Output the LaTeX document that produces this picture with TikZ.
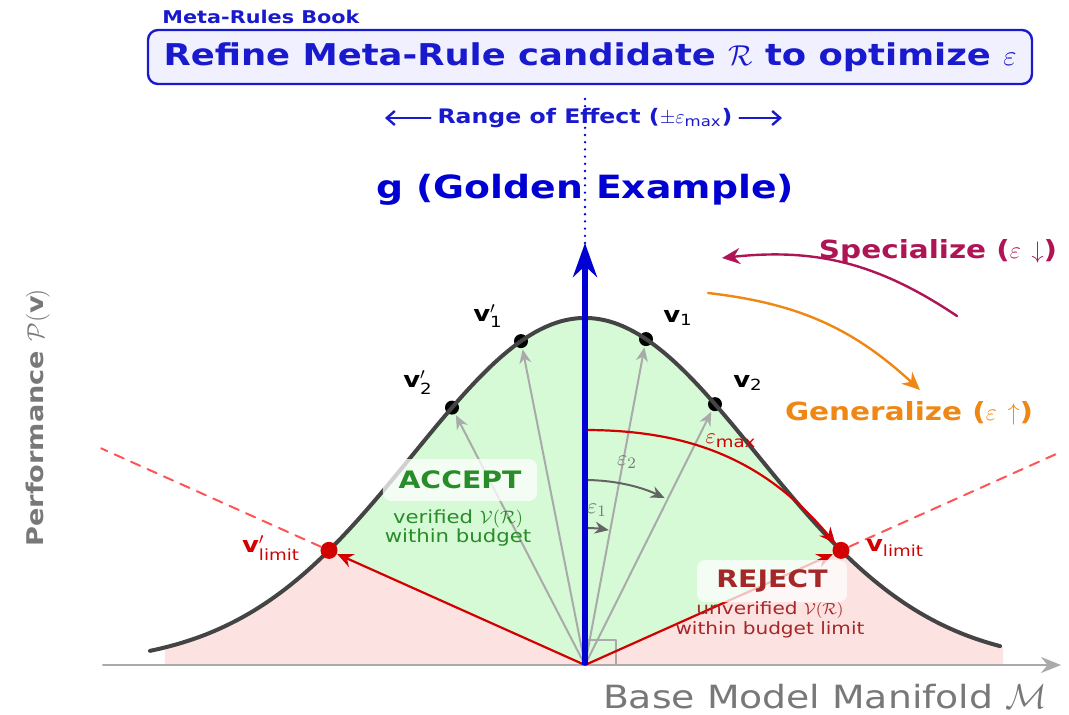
\documentclass[tikz,border=0pt]{standalone}
\usepackage{amsmath,amssymb}
\usepackage{fontspec}
\setmainfont{DejaVu Sans}[FakeStretch=1.18]
\usetikzlibrary{arrows.meta,calc,positioning}
\definecolor{ruleblue}{RGB}{25,25,205}
\definecolor{axisblue}{RGB}{0,0,210}
\definecolor{boxfill}{RGB}{240,240,255}
\definecolor{curvegray}{RGB}{68,68,68}
\definecolor{raygray}{RGB}{170,170,170}
\definecolor{arcgray}{RGB}{100,100,100}
\definecolor{labgray}{RGB}{120,120,120}
\definecolor{accfill}{RGB}{214,250,214}
\definecolor{rejfill}{RGB}{253,226,226}
\definecolor{limred}{RGB}{210,0,0}
\definecolor{dashred}{RGB}{255,85,85}
\definecolor{accgreen}{RGB}{40,140,40}
\definecolor{rejred}{RGB}{165,40,40}
\definecolor{specred}{RGB}{175,20,85}
\definecolor{genorange}{RGB}{238,135,20}
\newcommand{\bellY}[1]{347*exp(-0.5*((#1)/172)*((#1)/172))}
\tikzset{
  bell/.style={draw=curvegray, line width=2pt},
  dotv/.style={circle, fill, inner sep=0pt, minimum size=7pt},
  limdot/.style={circle, fill=limred, inner sep=0pt, minimum size=8.5pt},
  ray/.style={draw=raygray, line width=1pt, -{Stealth[length=7pt,width=6pt]}, shorten >=0.5pt},
  limline/.style={draw=limred, line width=1.1pt, -{Stealth[length=8pt,width=7pt]}},
  limdash/.style={draw=dashred, line width=1pt, dash pattern=on 5pt off 4pt},
  epsarc/.style={draw=arcgray, line width=1pt, -{Stealth[length=7pt,width=6pt]}},
  rangearr/.style={draw=ruleblue, line width=1.2pt, -{Straight Barb[length=4pt,width=7pt]}},
  vlab/.style={font=\fontsize{11pt}{13pt}\selectfont, text=black},
  tag/.style={rounded corners=4pt, fill=white, fill opacity=0.75, text opacity=1, minimum width=77pt, minimum height=21pt, font=\bfseries\fontsize{12pt}{14pt}\selectfont},
  note/.style={align=center, inner sep=0pt},
  every picture/.style={line cap=round, line join=round}
}
\begin{document}
\begin{tikzpicture}[x=0.5pt, y=0.5pt]
  \useasboundingbox (-585,-49) rectangle (484,665);
  \coordinate (O) at (0,0);
  \coordinate (vlp) at (-256,{\bellY{-256}});
  \coordinate (vl) at (256,{\bellY{256}});
  \fill[rejfill] (-420,0) -- plot[domain=-420:418, samples=90] (\x,{\bellY{\x}}) -- (418,0) -- cycle;
  \fill[accfill] (O) -- (vlp) -- plot[domain=-256:256, samples=70] (\x,{\bellY{\x}}) -- (vl) -- cycle;
  \coordinate (xl) at (-482,0);
  \coordinate (xr) at (476,0);
  \draw[draw=raygray, line width=1pt, -{Stealth[length=10pt,width=8pt]}] (xl) -- (xr);
  \draw[raygray, line width=0.8pt] (0,25) -- (31,25) -- (31,0);

  \node[dotv] (v1) at (61,{\bellY{61}}) {};
  \node[dotv] (v2) at (130,{\bellY{130}}) {};
  \node[dotv] (w1) at (-64,{\bellY{-64}}) {};
  \node[dotv] (w2) at (-133,{\bellY{-133}}) {};
  \draw[ray] (O) -- (v1);
  \draw[ray] (O) -- (v2);
  \draw[ray] (O) -- (w1);
  \draw[ray] (O) -- (w2);

  \coordinate (e1) at (0,137);
  \coordinate (e2) at (0,185);
  \draw[epsarc] (e1) arc[start angle=90, end angle=80, radius=137];
  \draw[epsarc] (e2) arc[start angle=90, end angle=64.5, radius=185];
  \node[text=labgray, font=\fontsize{11pt}{13pt}\selectfont] (eps1) at (12,155) {$\varepsilon_1$};
  \node[text=labgray, font=\fontsize{11pt}{13pt}\selectfont] (eps2) at (42,203) {$\varepsilon_2$};

  \draw[bell] plot[domain=-435:415, samples=100, smooth] (\x,{\bellY{\x}});

  \node[limdot] (L) at (vlp) {};
  \node[limdot] (R) at (vl) {};
  \coordinate (dl) at ($(O)!1.89!(vlp)$);
  \coordinate (dr) at ($(O)!1.86!(vl)$);
  \draw[limline] (O) -- (L);
  \draw[limline] (O) -- (R);
  \draw[limdash] (L) -- (dl);
  \draw[limdash] (R) -- (dr);
  \coordinate (em) at (0,235);
  \draw[limline] (em) to[out=0, in=130] (R);
  \node[text=limred, font=\fontsize{11pt}{13pt}\selectfont] (emax) at (146,224) {$\varepsilon_{\text{max}}$};

  \coordinate (gtip) at (0,422);
  \coordinate (dtop) at (0,573);
  \draw[draw=axisblue, line width=2.6pt, line cap=butt, -{Stealth[length=17pt,width=12pt]}] (O) -- (gtip);
  \draw[axisblue, line width=1.3pt, dash pattern=on 0pt off 3.6pt] (gtip) -- (dtop);

  \node[vlab] (w1lab) at (-97,349) {$\textbf{v}'_{\text{1}}$};
  \node[vlab] (v1lab) at (93,347) {$\textbf{v}_{\text{1}}$};
  \node[vlab] (w2lab) at (-167,282) {$\textbf{v}'_{\text{2}}$};
  \node[vlab] (v2lab) at (163,282) {$\textbf{v}_{\text{2}}$};
  \node[text=limred, font=\fontsize{11pt}{13pt}\selectfont] (Llab) at (-314,117) {$\textbf{v}'_{\text{limit}}$};
  \node[text=limred, font=\fontsize{11pt}{13pt}\selectfont] (Rlab) at (310,117) {$\textbf{v}_{\text{limit}}$};

  \node[tag, text=accgreen] (acc) at (-125,185) {ACCEPT};
  \node[note, text=accgreen, font=\fontsize{9pt}{9.5pt}\selectfont] (accnote) at (-127,137) {verified $\mathcal{V}(\mathcal{R})$\\within budget};
  \node[tag, text=rejred, minimum width=75pt] (rej) at (187,84) {REJECT};
  \node[note, text=rejred, font=\fontsize{8.5pt}{10pt}\selectfont] (rejnote) at (185,45) {unverified $\mathcal{V}(\mathcal{R})$\\within budget limit};

  \node[draw=ruleblue, line width=1.2pt, fill=boxfill, rounded corners=5pt, minimum width=442pt, minimum height=27pt, text=ruleblue, font=\bfseries\fontsize{15pt}{18pt}\selectfont] (title) at (5,608) {Refine Meta-Rule candidate $\mathcal{R}$ to optimize $\varepsilon$};
  \node[text=ruleblue, font=\bfseries\fontsize{8.8pt}{10pt}\selectfont] (book) at (-324,648) {Meta-Rules Book};
  \node[text=ruleblue, font=\bfseries\fontsize{10pt}{12pt}\selectfont] (range) at (0,547) {Range of Effect ($\pm\varepsilon_{\textnormal{max}}$)};
  \coordinate (rl) at (-200,547);
  \coordinate (rr) at (197,547);
  \draw[rangearr] (range.west) -- (rl);
  \draw[rangearr] (range.east) -- (rr);
  \node[text=axisblue, font=\bfseries\fontsize{16pt}{19pt}\selectfont] (gold) at (0,475) {g (Golden Example)};

  \node[text=specred, font=\bfseries\fontsize{12.5pt}{14pt}\selectfont] (spec) at (353,413) {Specialize ($\varepsilon\,\downarrow$)};
  \node[text=genorange, font=\bfseries\fontsize{12.5pt}{14pt}\selectfont] (gen) at (324,252) {Generalize ($\varepsilon\,\uparrow$)};
  \coordinate (sps) at (372,349);
  \coordinate (spe) at (137,407);
  \coordinate (gns) at (123,372);
  \coordinate (gne) at (335,275);
  \draw[draw=specred, line width=1.2pt, -{Stealth[length=9pt,width=8pt]}] (sps) to[bend right=20] (spe);
  \draw[draw=genorange, line width=1.2pt, -{Stealth[length=9pt,width=8pt]}] (gns) to[bend left=18] (gne);

  \node[text=labgray, font=\fontsize{16pt}{19pt}\selectfont] (xlab) at (240,-32) {Base Model Manifold $\mathcal{M}$};
  \node[text=labgray, rotate=90, font=\bfseries\fontsize{11.5pt}{13pt}\selectfont] (ylab) at (-547,247) {Performance $\mathcal{P}(\mathbf{v})$};
\end{tikzpicture}
\end{document}
